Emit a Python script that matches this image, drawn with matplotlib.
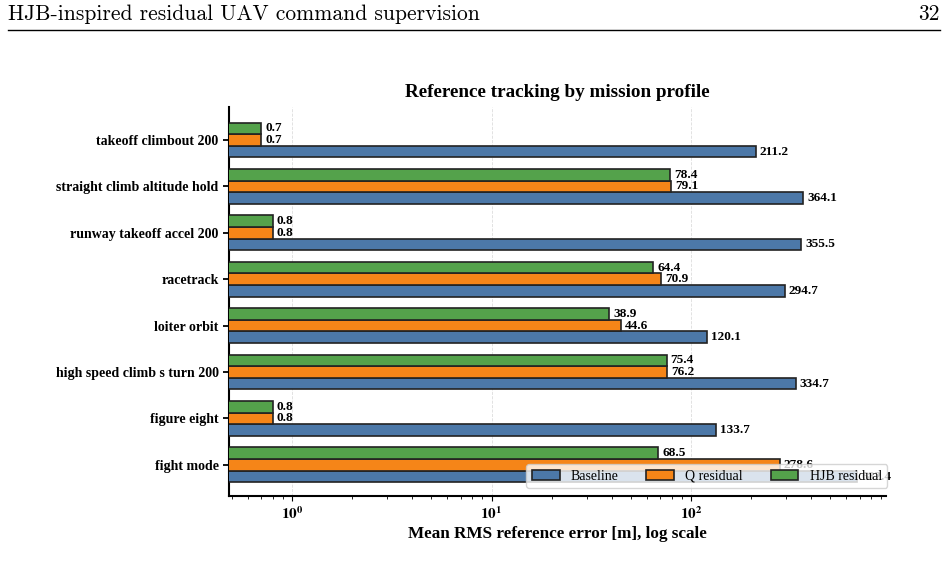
import matplotlib
matplotlib.use("Agg")
import matplotlib.pyplot as plt
from matplotlib.ticker import FuncFormatter, LogLocator
import numpy as np

plt.rcParams['font.family'] = ['Liberation Serif', 'DejaVu Serif']
plt.rcParams['mathtext.fontset'] = 'stix'

# data, bottom to top
profiles = ['fight mode', 'figure eight', 'high speed climb s turn 200', 'loiter orbit',
            'racetrack', 'runway takeoff accel 200', 'straight climb altitude hold',
            'takeoff climbout 200']
baseline = [682.4, 133.7, 334.7, 120.1, 294.7, 355.5, 364.1, 211.2]
q_resid = [278.6, 0.8, 76.2, 44.6, 70.9, 0.8, 79.1, 0.7]
hjb_resid = [68.5, 0.8, 75.4, 38.9, 64.4, 0.8, 78.4, 0.7]

series = [('Baseline', baseline, '#4C78A8'),
          ('Q residual', q_resid, '#F58518'),
          ('HJB residual', hjb_resid, '#54A24B')]

fig = plt.figure(figsize=(9.48, 5.71), dpi=100)

# page header
fig.text(8 / 948, 1 - 14 / 571, 'HJB-inspired residual UAV command supervision',
         family='cmr10', fontsize=15.5, ha='left', va='center')
fig.text(940 / 948, 1 - 14 / 571, '32', family='cmr10', fontsize=15.5,
         ha='right', va='center')
fig.add_artist(plt.Line2D([8 / 948, 940 / 948], [1 - 30 / 571, 1 - 30 / 571],
                          color='black', lw=1.0))

ax = fig.add_axes([229 / 948, 1 - 496 / 571, 657 / 948, 389 / 571])

y = np.arange(len(profiles))
h = 0.25
for i, (name, vals, col) in enumerate(series):
    ypos = y + (i - 1) * h
    ax.barh(ypos, vals, height=h, color=col, edgecolor='#222222', linewidth=1.2,
            label=name, zorder=3)
    for yy, v in zip(ypos, vals):
        ax.annotate(f'{v:.1f}', xy=(v, yy), xytext=(3, 0), textcoords='offset points',
                    ha='left', va='center', fontsize=9.5, fontweight='bold', zorder=2)

ax.set_xscale('log')
ax.set_xlim(0.483, 949)
ax.set_ylim(-0.67, 7.71)
ax.xaxis.set_major_locator(LogLocator(base=10))
ax.xaxis.set_major_formatter(FuncFormatter(
    lambda v, pos: r'$\mathbf{10^{%d}}$' % round(np.log10(v))))
ax.set_yticks(y)
ax.set_yticklabels(profiles, fontsize=10, fontweight='bold')
ax.tick_params(axis='x', labelsize=11)
ax.tick_params(axis='y', length=4, width=1.3)
ax.xaxis.grid(True, which='major', linestyle='--', color='#dddddd', linewidth=0.6, zorder=0)
ax.spines['top'].set_visible(False)
ax.spines['right'].set_visible(False)
ax.spines['left'].set_linewidth(1.5)
ax.spines['bottom'].set_linewidth(1.5)

ax.set_title('Reference tracking by mission profile', fontsize=13.8, fontweight='bold', pad=7)
ax.set_xlabel('Mean RMS reference error [m], log scale', fontsize=12.3, fontweight='bold',
              labelpad=3)

leg = ax.legend(loc='lower right', ncol=3, fontsize=10, bbox_to_anchor=(1.002, 0.02),
                borderaxespad=0, framealpha=0.8, columnspacing=2.0, handlelength=2.0)
leg.get_frame().set_edgecolor('#cccccc')
leg.set_zorder(5)

fig.savefig('out.png', dpi=100)
